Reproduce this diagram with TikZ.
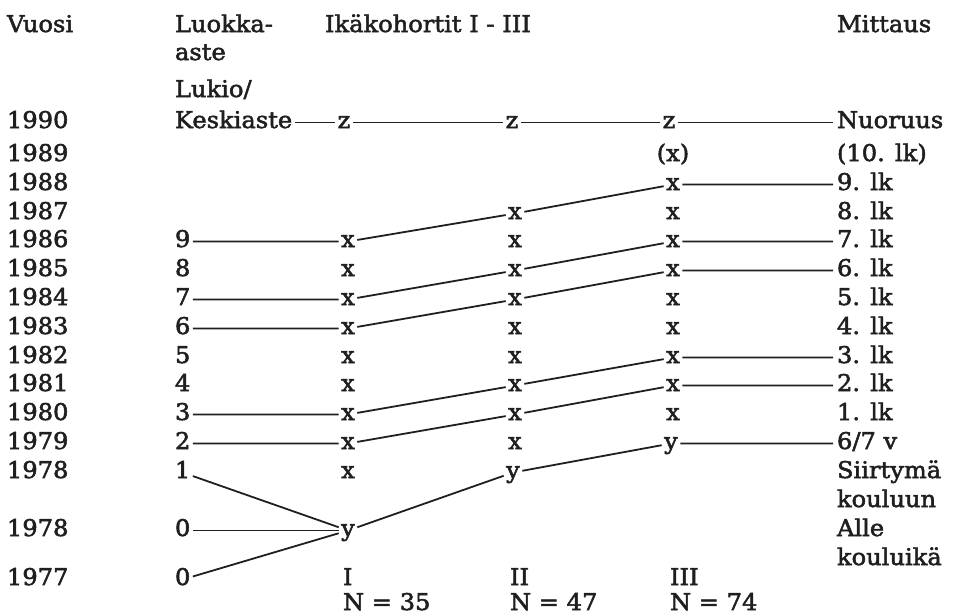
\documentclass[tikz,border=0pt]{standalone}
\usepackage{fontspec}
\setmainfont{DejaVu Serif}[FakeBold=2.2,FakeStretch=1.05]
\begin{document}
\begin{tikzpicture}[x=1pt,y=-1pt,
  every node/.style={font=\fontsize{23}{27}\selectfont, inner sep=0pt, outer sep=0pt, text=black!88},
  lbl/.style={anchor=base west},
  mk/.style={anchor=base, text height=16pt, text depth=5pt, inner xsep=2.5pt},
  dg/.style={anchor=base west, text height=16pt, text depth=5pt, inner xsep=2.5pt},
  rl/.style={anchor=base west, text height=16pt, text depth=5pt, inner xsep=4pt},
  ln/.style={line width=1.8pt, draw=black!88}]
\useasboundingbox (0,0) rectangle (954,616);
% header
\node[lbl] (hv) at (7,32) {Vuosi};
\node[lbl] (hl1) at (175,32) {Luokka-};
\node[lbl] (hl2) at (175,60) {aste};
\node[lbl] (hl3) at (175,97) {Lukio/};
\node[lbl] (hk) at (325,32) {Ikäkohortit I - III};
\node[lbl] (hm) at (837,32) {Mittaus};
% years
\node[lbl] (y90) at (7,128) {1990};
\node[lbl] (y89) at (7,161) {1989};
\node[lbl] (y88) at (7,190) {1988};
\node[lbl] (y87) at (7,219) {1987};
\node[lbl] (y86) at (7,247) {1986};
\node[lbl] (y85) at (7,276) {1985};
\node[lbl] (y84) at (7,305) {1984};
\node[lbl] (y83) at (7,334) {1983};
\node[lbl] (y82) at (7,363) {1982};
\node[lbl] (y81) at (7,391) {1981};
\node[lbl] (y80) at (7,420) {1980};
\node[lbl] (y79) at (7,449) {1979};
\node[lbl] (y78) at (7,478) {1978};
\node[lbl] (y78b) at (7,536) {1978};
\node[lbl] (y77) at (7,585) {1977};
% grade column
\node[dg] (kesk) at (172.5,128) {Keskiaste};
\node[dg] (d9) at (172.5,247) {9};
\node[dg] (d8) at (172.5,276) {8};
\node[dg] (d7) at (172.5,305) {7};
\node[dg] (d6) at (172.5,334) {6};
\node[dg] (d5) at (172.5,363) {5};
\node[dg] (d4) at (172.5,391) {4};
\node[dg] (d3) at (172.5,420) {3};
\node[dg] (d2) at (172.5,449) {2};
\node[dg] (d1) at (172.5,478) {1};
\node[dg] (d0a) at (172.5,536) {0};
\node[dg] (d0b) at (172.5,585) {0};
% cohort I
\node[mk] (zI) at (344,128) {z};
\node[mk] (xI86) at (348,247) {x};
\node[mk] (xI85) at (348,276) {x};
\node[mk] (xI84) at (348,305) {x};
\node[mk] (xI83) at (348,334) {x};
\node[mk] (xI82) at (348,363) {x};
\node[mk] (xI81) at (348,391) {x};
\node[mk] (xI80) at (348,420) {x};
\node[mk] (xI79) at (348,449) {x};
\node[mk] (xI78) at (348,478) {x};
\node[mk] (yI) at (348,536) {y};
% cohort II
\node[mk] (zII) at (512,128) {z};
\node[mk] (xII87) at (515,219) {x};
\node[mk] (xII86) at (515,247) {x};
\node[mk] (xII85) at (515,276) {x};
\node[mk] (xII84) at (515,305) {x};
\node[mk] (xII83) at (515,334) {x};
\node[mk] (xII82) at (515,363) {x};
\node[mk] (xII81) at (515,391) {x};
\node[mk] (xII80) at (515,420) {x};
\node[mk] (xII79) at (515,449) {x};
\node[mk] (yII) at (513,478) {y};
% cohort III
\node[mk] (zIII) at (669,128) {z};
\node[mk] (pxIII) at (673,161) {(x)};
\node[mk] (xIII88) at (673,190) {x};
\node[mk] (xIII87) at (673,219) {x};
\node[mk] (xIII86) at (673,247) {x};
\node[mk] (xIII85) at (673,276) {x};
\node[mk] (xIII84) at (673,305) {x};
\node[mk] (xIII83) at (673,334) {x};
\node[mk] (xIII82) at (673,363) {x};
\node[mk] (xIII81) at (673,391) {x};
\node[mk] (xIII80) at (673,420) {x};
\node[mk] (yIII) at (671,449) {y};
% bottom
\node[lbl] (cI) at (343,585) {I};
\node[lbl] (nI) at (343,610) {N = 35};
\node[lbl] (cII) at (510,585) {II};
\node[lbl] (nII) at (510,610) {N = 47};
\node[lbl] (cIII) at (670,585) {III};
\node[lbl] (nIII) at (670,610) {N = 74};
% right labels
\node[rl] (lnu) at (833,128) {Nuoruus};
\node[rl] (l10) at (833,161) {(10. lk)};
\node[rl] (l9) at (833,190) {9. lk};
\node[rl] (l8) at (833,219) {8. lk};
\node[rl] (l7) at (833,247) {7. lk};
\node[rl] (l6) at (833,276) {6. lk};
\node[rl] (l5) at (833,305) {5. lk};
\node[rl] (l4) at (833,334) {4. lk};
\node[rl] (l3) at (833,363) {3. lk};
\node[rl] (l2) at (833,391) {2. lk};
\node[rl] (l1) at (833,420) {1. lk};
\node[rl] (l67) at (833,449) {6/7 v};
\node[rl] (ls1) at (833,478) {Siirtymä};
\node[rl] (ls2) at (833,507) {kouluun};
\node[rl] (la1) at (833,536) {Alle};
\node[rl] (la2) at (833,565) {kouluikä};
% connectors
\draw[ln] (kesk) -- (zI) -- (zII) -- (zIII) -- (lnu);
\draw[ln] (d9) -- (xI86) -- (xII87) -- (xIII88) -- (l9);
\draw[ln] (d7) -- (xI84) -- (xII85) -- (xIII86) -- (l7);
\draw[ln] (d6) -- (xI83) -- (xII84) -- (xIII85) -- (l6);
\draw[ln] (d3) -- (xI80) -- (xII81) -- (xIII82) -- (l3);
\draw[ln] (d2) -- (xI79) -- (xII80) -- (xIII81) -- (l2);
\draw[ln] (d1) -- (yI);
\draw[ln] (d0a) -- (yI);
\draw[ln] (d0b) -- (yI);
\draw[ln] (yI) -- (yII) -- (yIII) -- (l67);
\end{tikzpicture}
\end{document}
